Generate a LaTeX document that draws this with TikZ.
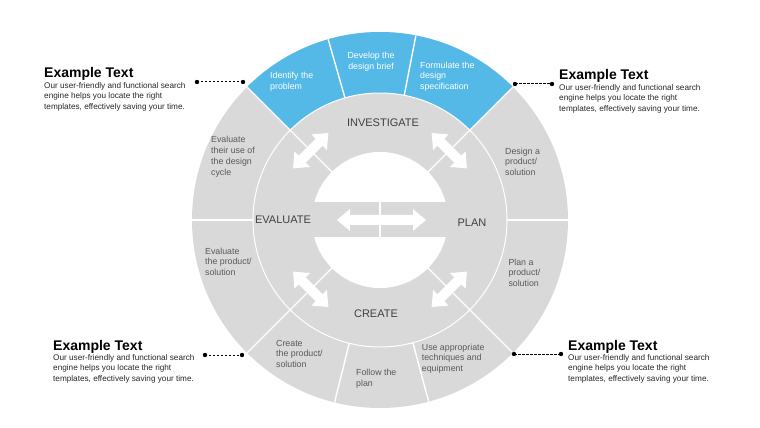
\documentclass[tikz,border=0pt]{standalone}
\usepackage{fontspec}
\setmainfont{Liberation Sans}
\usetikzlibrary{positioning}
\definecolor{cycleblue}{RGB}{85,185,232}
\definecolor{cyclegray}{RGB}{217,217,217}
\definecolor{labelgray}{RGB}{89,89,89}
\definecolor{stagegray}{RGB}{64,64,64}
\tikzset{
  pics/dblarrow/.style={code={
    \fill[white] (-#1,0) -- (-#1+13,11) -- (-#1+13,5) -- (#1-13,5) -- (#1-13,11)
      -- (#1,0) -- (#1-13,-11) -- (#1-13,-5) -- (-#1+13,-5) -- (-#1+13,-11) -- cycle;
  }}
}

\begin{document}
\begin{tikzpicture}[x=1pt,y=1pt,
    sep/.style={white,line width=1.4pt},
    seg/.style={font=\fontsize{8.8}{10.7}\selectfont,text=labelgray,align=left,inner sep=0,anchor=west},
    segblue/.style={seg,text=white},
    stage/.style={font=\fontsize{11}{13}\selectfont,text=stagegray,inner sep=0},
    title/.style={font=\fontsize{14}{16}\selectfont\bfseries,inner sep=0,anchor=base west},
    body/.style={font=\fontsize{8.2}{10.4}\selectfont,text=black!85,align=left,inner sep=0},
    leader/.style={black,line width=1pt,dash pattern=on 2.5pt off 1.5pt}]
        \useasboundingbox (-380,-208) rectangle (380,220);
        % rings
        \fill[cyclegray] (0,0) circle (188);
        \fill[cycleblue] (45:188) arc[start angle=45,end angle=135,radius=188]
            -- (135:127) arc[start angle=135,end angle=45,radius=127] -- cycle;
        \fill[white] (0,0) circle (68);
        \fill[cyclegray] (-68,-17.5) rectangle (68,17.5);
        \draw[white,line width=1pt] (0,0) circle (127);
        \foreach \a in {45,135,225,315} \draw[sep] (\a:68) -- (\a:188);
        \foreach \a in {0,79,106,180,256,285} \draw[sep] (\a:127) -- (\a:188);
        \draw[sep] (0,-17.5) -- (0,17.5);
        % arrows
        \pic[rotate=45] at (135:98) {dblarrow=25};
        \pic[rotate=-45] at (45:98) {dblarrow=25};
        \pic[rotate=-45] at (225:98) {dblarrow=25};
        \pic[rotate=45] at (315:98) {dblarrow=25};
        \pic at (1.5,0) {dblarrow=44.5};
        % stages
        \node[stage] (investigate) at (3,97) {INVESTIGATE};
        \node[stage] (evaluate) at (-97,0.5) {EVALUATE};
        \node[stage] (plan) at (92,-3) {PLAN};
        \node[stage] (create) at (-4,-94) {CREATE};
        % steps
        \node[segblue] (identify) at (-110,138) {Identify the\\problem};
        \node[segblue,align=center,anchor=center] (develop) at (-9,158) {Develop the\\design brief};
        \node[segblue] (formulate) at (40,143.5) {Formulate the\\design\\specification};
        \node[seg] (designprod) at (125,58.3) {Design a\\product/\\solution};
        \node[seg] (planprod) at (128.3,-52.8) {Plan a\\product/\\solution};
        \node[seg] (useappr) at (41.7,-138.5) {Use appropriate\\techniques and\\equipment};
        \node[seg] (follow) at (-24,-158.7) {Follow the\\plan};
        \node[seg] (createprod) at (-104,-133.7) {Create\\the product/\\solution};
        \node[seg] (evalprod) at (-175,-41.7) {Evaluate\\the product/\\solution};
        \node[seg] (evaluse) at (-169,63.3) {Evaluate\\their use of\\the design\\cycle};
        % side notes
        \node[title] (tl-title) at (-336,142) {Example Text};
        \node[body,below=1pt of tl-title.south west,anchor=north west] (tl-body) {Our user-friendly and functional search\\engine helps you locate the right\\templates, effectively saving your time.};
        \node[title] (tr-title) at (179,140) {Example Text};
        \node[body,below=1pt of tr-title.south west,anchor=north west] (tr-body) {Our user-friendly and functional search\\engine helps you locate the right\\templates, effectively saving your time.};
        \node[title] (bl-title) at (-327,-130) {Example Text};
        \node[body,below=1pt of bl-title.south west,anchor=north west] (bl-body) {Our user-friendly and functional search\\engine helps you locate the right\\templates, effectively saving your time.};
        \node[title] (br-title) at (188,-130) {Example Text};
        \node[body,below=1pt of br-title.south west,anchor=north west] (br-body) {Our user-friendly and functional search\\engine helps you locate the right\\templates, effectively saving your time.};
        % leaders
        \coordinate (tl-a) at (-183,138); \coordinate (tl-b) at (-137,138);
        \coordinate (tr-a) at (135,136); \coordinate (tr-b) at (172,136);
        \coordinate (bl-a) at (-175,-135); \coordinate (bl-b) at (-138,-135);
        \coordinate (br-a) at (134,-134); \coordinate (br-b) at (181,-134);
        \foreach \p in {tl,tr,bl,br} {
            \draw[leader] (\p-a) -- (\p-b);
            \fill (\p-a) circle (2.2);
            \fill (\p-b) circle (2.2);
        }
\end{tikzpicture}
\end{document}
